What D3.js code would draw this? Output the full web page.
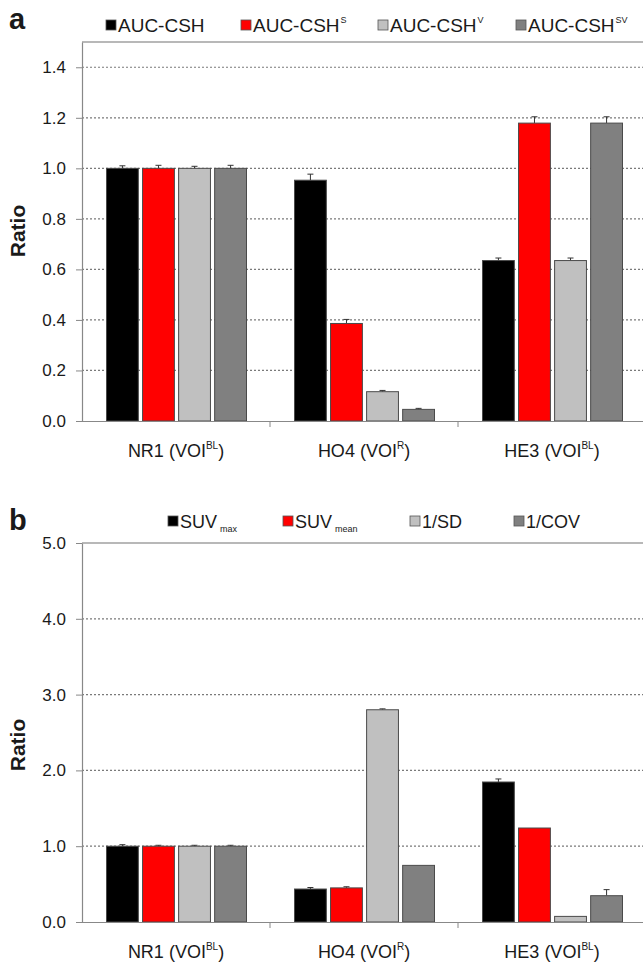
<!DOCTYPE html>
<html><head><meta charset="utf-8">
<script src="https://cdn.jsdelivr.net/npm/d3@7"></script>
<style>
html,body{margin:0;padding:0;background:#fff;}
svg text{font-family:"Liberation Sans",Arial,sans-serif;fill:#1a1a1a;}
</style></head>
<body>
<svg id="chart" width="643" height="962"></svg>
<script>
// ---- data ----
const categories = ["NR1", "HO4", "HE3"];
const categoryVoi = ["BL", "R", "BL"];

const seriesA = ["AUC-CSH", "AUC-CSH_S", "AUC-CSH_V", "AUC-CSH_SV"];
const legendA = [["AUC-CSH", ""], ["AUC-CSH", "S"], ["AUC-CSH", "V"], ["AUC-CSH", "SV"]];
const valuesA_NR1 = [1.00, 1.00, 1.00, 1.00];
const valuesA_HO4 = [0.953, 0.386, 0.116, 0.046];
const valuesA_HE3 = [0.635, 1.179, 0.635, 1.179];
const errA_NR1 = [0.010, 0.012, 0.008, 0.012];
const errA_HO4 = [0.024, 0.016, 0.005, 0.004];
const errA_HE3 = [0.010, 0.025, 0.010, 0.025];
const ticksA = [0.0, 0.2, 0.4, 0.6, 0.8, 1.0, 1.2, 1.4];
const maxA = 1.5;

const seriesB = ["SUVmax", "SUVmean", "1/SD", "1/COV"];
const legendB = [["SUV", "max"], ["SUV", "mean"], ["1/SD", ""], ["1/COV", ""]];
const valuesB_NR1 = [1.00, 1.00, 1.00, 1.00];
const valuesB_HO4 = [0.435, 0.450, 2.800, 0.747];
const valuesB_HE3 = [1.847, 1.240, 0.074, 0.347];
const errB_NR1 = [0.020, 0.012, 0.012, 0.012];
const errB_HO4 = [0.020, 0.015, 0.012, 0.0];
const errB_HE3 = [0.040, 0.0, 0.0, 0.080];
const ticksB = [0.0, 1.0, 2.0, 3.0, 4.0, 5.0];
const maxB = 5.0;

const colors = ["#000000", "#ff0000", "#c0c0c0", "#808080"];

// ---- drawing ----
const svg = d3.select("#chart");
const left = 82, right = 646;

function drawPanel(opt) {
  const g = svg.append("g");
  const y = d3.scaleLinear().domain([0, opt.max]).range([opt.bottom, opt.top]);
  const x0 = d3.scaleBand().domain(categories).range([left, right]).padding(0);
  const x1 = d3.scaleBand().domain(opt.series).range([24.5, 24.5 + 140]).paddingInner(0.117).paddingOuter(0);

  // grid
  g.selectAll("line.grid").data(opt.ticks.filter(t => t > 0 && t < opt.max)).enter()
    .append("line").attr("class", "grid")
    .attr("x1", left).attr("x2", right).attr("y1", d => y(d)).attr("y2", d => y(d))
    .attr("stroke", "#7a7a7a").attr("stroke-width", 1.2).attr("stroke-dasharray", "2,2");
  // top frame
  g.append("line").attr("x1", left).attr("x2", right).attr("y1", y(opt.max)).attr("y2", y(opt.max))
    .attr("stroke", "#a0a0a0").attr("stroke-width", 1.5);

  // bars
  const rows = categories.map((c, i) => ({cat: c, vals: opt.values[i], errs: opt.errs[i]}));
  const cg = g.selectAll("g.cat").data(rows).enter().append("g")
    .attr("transform", d => `translate(${x0(d.cat)},0)`);
  const items = cg.selectAll("g.bar").data(d => d.vals.map((v, j) => ({s: opt.series[j], v, e: d.errs[j], j})))
    .enter().append("g");
  items.filter(d => d.e > 0).append("line")
    .attr("x1", d => x1(d.s) + x1.bandwidth() / 2).attr("x2", d => x1(d.s) + x1.bandwidth() / 2)
    .attr("y1", d => y(d.v)).attr("y2", d => y(d.v + d.e))
    .attr("stroke", "#333").attr("stroke-width", 1);
  items.filter(d => d.e > 0).append("line")
    .attr("x1", d => x1(d.s) + x1.bandwidth() / 2 - 3).attr("x2", d => x1(d.s) + x1.bandwidth() / 2 + 3)
    .attr("y1", d => y(d.v + d.e)).attr("y2", d => y(d.v + d.e))
    .attr("stroke", "#333").attr("stroke-width", 1);
  items.append("rect")
    .attr("x", d => x1(d.s)).attr("width", x1.bandwidth())
    .attr("y", d => y(d.v)).attr("height", d => y(0) - y(d.v))
    .attr("fill", d => colors[d.j]).attr("stroke", "#4a4a4a").attr("stroke-width", 1);

  // y axis
  const ax = g.append("g").attr("transform", `translate(${left},0)`)
    .call(d3.axisLeft(y).tickValues(opt.ticks).tickFormat(d3.format(".1f")).tickSize(6).tickPadding(10).tickSizeOuter(0));
  ax.select(".domain").attr("stroke", "#888").attr("stroke-width", 1.2);
  ax.selectAll(".tick line").attr("stroke", "#888");
  ax.selectAll(".tick text").attr("font-size", 17).attr("fill", "#222")
    .style("font-family", '"Liberation Sans", Arial, sans-serif');

  // x axis
  g.append("line").attr("x1", left).attr("x2", right).attr("y1", y(0) + 0.5).attr("y2", y(0) + 0.5)
    .attr("stroke", "#888").attr("stroke-width", 1.2);
  g.selectAll("line.xt").data(categories.slice(1)).enter().append("line")
    .attr("x1", d => x0(d)).attr("x2", d => x0(d)).attr("y1", y(0)).attr("y2", y(0) + 6)
    .attr("stroke", "#888");
  const lbl = g.selectAll("text.xl").data(categories).enter().append("text")
    .attr("x", d => x0(d) + x0.bandwidth() / 2).attr("y", y(0) + 36)
    .attr("text-anchor", "middle").attr("font-size", 18);
  lbl.append("tspan").text(d => d + " (VOI");
  lbl.append("tspan").attr("font-size", 10).attr("dy", -8).text((d, i) => categoryVoi[i]);
  lbl.append("tspan").attr("dy", 8).text(")");

  // y title
  g.append("text").attr("transform", `translate(25,${opt.titleY}) rotate(-90)`)
    .attr("text-anchor", "middle").attr("font-size", 21).attr("font-weight", "bold").text("Ratio");

  // panel letter
  g.append("text").attr("x", 9).attr("y", opt.top - 13).attr("font-size", 29).attr("font-weight", "bold")
    .attr("fill", "#111").text(opt.letter);

  // legend
  const lg = g.selectAll("g.lg").data(opt.legend).enter().append("g")
    .attr("transform", (d, i) => `translate(${opt.legendX[i]},${opt.legendY})`);
  lg.append("rect").attr("x", 0).attr("y", -5).attr("width", 10).attr("height", 10)
    .attr("fill", (d, i) => colors[i]).attr("stroke", "#555").attr("stroke-width", 0.8);
  const lt = lg.append("text").attr("x", 12).attr("y", 7).attr("font-size", opt.legendFont);
  lt.append("tspan").text(d => d[0]);
  lt.filter(d => d[1]).append("tspan").attr("font-size", 9)
    .attr("dy", opt.supUp ? -9 : 4).attr("dx", opt.supUp ? 1 : 3).text(d => d[1]);
}

drawPanel({
  letter: "a", top: 42, bottom: 421, max: maxA, ticks: ticksA, series: seriesA,
  values: [valuesA_NR1, valuesA_HO4, valuesA_HE3], errs: [errA_NR1, errA_HO4, errA_HE3],
  legend: legendA, legendX: [106, 241, 378, 516], legendY: 25, legendFont: 19, supUp: true, titleY: 231
});
drawPanel({
  letter: "b", top: 543, bottom: 922, max: maxB, ticks: ticksB, series: seriesB,
  values: [valuesB_NR1, valuesB_HO4, valuesB_HE3], errs: [errB_NR1, errB_HO4, errB_HE3],
  legend: legendB, legendX: [168, 283, 410, 514], legendY: 521, legendFont: 18, supUp: false, titleY: 745
});
</script>
</body></html>
